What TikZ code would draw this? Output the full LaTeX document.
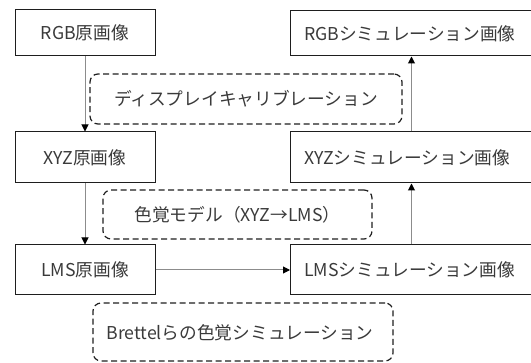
\documentclass[tikz,border=0pt]{standalone}
\usepackage{fontspec}
\setmainfont{Noto Sans CJK JP}
\usetikzlibrary{arrows.meta}
\definecolor{txt}{HTML}{3A3A3A}
\definecolor{frame}{HTML}{1E1E1E}
\definecolor{conn}{HTML}{8C8C8C}
\begin{document}
\begin{tikzpicture}[x=1pt,y=-1pt,
  every node/.style={font=\fontsize{17.7}{19}\selectfont, text=txt, inner sep=0pt},
  imgbox/.style={draw=frame, line width=1pt, rectangle},
  leftbox/.style={imgbox, minimum width=140pt, minimum height=46pt},
  rightbox/.style={imgbox, minimum width=242pt, minimum height=46pt},
  procbox/.style={draw=frame, line width=1.2pt, dash pattern=on 6pt off 3.5pt, rounded corners=8pt, rectangle},
  flow/.style={draw=conn, line width=1pt, -{Triangle[length=7pt,width=7pt,fill=black,color=black]}}
]
\useasboundingbox (0,0) rectangle (531,363);

\node[leftbox, minimum height=46pt] (rgbo) at (85,33) {RGB原画像};
\node[leftbox, minimum height=51pt] (xyzo) at (85,157.5) {XYZ原画像};
\node[leftbox, minimum height=50pt] (lmso) at (85,270) {LMS原画像};

\node[rightbox, minimum height=45pt] (rgbs) at (411.5,33.5) {};
\node[anchor=west] (rgbst) at (304,33.5) {RGBシミュレーション画像};
\node[rightbox, minimum height=51pt] (xyzs) at (411.5,157.5) {};
\node[anchor=west] (xyzst) at (304,157.5) {XYZシミュレーション画像};
\node[rightbox, minimum height=50pt] (lmss) at (411.5,270) {};
\node[anchor=west] (lmsst) at (304,270) {LMSシミュレーション画像};

\node[procbox, minimum width=312pt, minimum height=50pt] (cal) at (246,99) {ディスプレイキャリブレーション};
\node[procbox, minimum width=269pt, minimum height=49pt] (model) at (237.5,214.5) {色覚モデル（XYZ→LMS）};
\node[procbox, minimum width=300pt, minimum height=58pt] (sim) at (243,332) {};
\node (simt) at (240,333) {Brettelらの色覚シミュレーション};

\draw[flow] (rgbo.south) -- (xyzo.north);
\draw[flow] (xyzo.south) -- (lmso.north);
\draw[flow] (lmso.east) -- (lmss.west);
\draw[flow] (lmss.north) -- (xyzs.south);
\draw[flow] (xyzs.north) -- (rgbs.south);
\end{tikzpicture}
\end{document}
